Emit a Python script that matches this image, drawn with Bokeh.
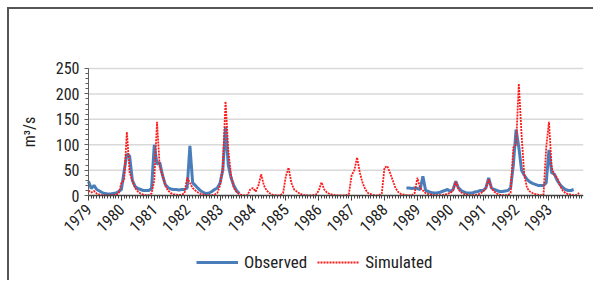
import math
from bokeh.plotting import figure
from bokeh.models import FixedTicker, Legend, LegendItem, ColumnDataSource
from bokeh.embed import file_html
from bokeh.resources import INLINE

nan = float("nan")

years = list(range(1979, 1994))
year_labels = [str(y) for y in years]
y_ticks = [0, 50, 100, 150, 200, 250]
grid_values = [50, 100, 150, 200, 250]

# monthly observed discharge (m3/s), Jan..Dec per row
observed = [
    28, 14, 20, 12, 9, 6, 4, 3, 3, 4, 5, 8,            # 1979
    12, 48, 82, 78, 30, 18, 14, 12, 10, 10, 10, 14,    # 1980
    100, 62, 65, 40, 22, 16, 13, 12, 12, 11, 12, 12,   # 1981
    15, 98, 25, 20, 14, 9, 6, 4, 5, 8, 12, 15,         # 1982
    25, 50, 135, 60, 35, 20, 10, 4, nan, nan, nan, nan,  # 1983
    nan, nan, nan, nan, nan, nan, nan, nan, nan, nan, nan, nan,  # 1984
    nan, nan, nan, nan, nan, nan, nan, nan, nan, nan, nan, nan,  # 1985
    nan, nan, nan, nan, nan, nan, nan, nan, nan, nan, nan, nan,  # 1986
    nan, nan, nan, nan, nan, nan, nan, nan, nan, nan, nan, nan,  # 1987
    nan, nan, nan, nan, nan, nan, nan, nan, 15, 15, 14, 15,      # 1988
    14, 12, 38, 10, 8, 6, 5, 5, 6, 8, 10, 12,          # 1989
    8, 12, 28, 15, 10, 7, 5, 5, 5, 7, 8, 10,           # 1990
    10, 15, 35, 15, 12, 10, 8, 8, 9, 10, 15, 60,       # 1991
    130, 95, 50, 40, 32, 27, 24, 22, 20, 20, 20, 25,   # 1992
    90, 45, 42, 30, 22, 16, 12, 10, 10, 12, nan, nan,  # 1993
]

# monthly simulated discharge (m3/s)
simulated = [
    10, 6, 9, 4, 2, 1, 0.5, 0.5, 0.5, 1, 2, 4,          # 1979
    25, 30, 125, 45, 30, 15, 8, 4, 2, 1, 1, 4,          # 1980
    30, 145, 55, 40, 20, 10, 5, 3, 2, 1, 2, 4,          # 1981
    35, 25, 15, 10, 6, 3, 2, 1, 1, 1, 2, 5,             # 1982
    20, 55, 185, 90, 40, 15, 7, 3, 1, 0.5, 1, 12,       # 1983
    15, 8, 20, 42, 20, 10, 5, 2, 1, 0.5, 0.5, 5,        # 1984
    38, 55, 25, 12, 8, 4, 2, 1, 0.5, 0.5, 1, 2,         # 1985
    10, 26, 12, 6, 3, 2, 1, 0.5, 0.5, 0.5, 1, 3,        # 1986
    40, 50, 75, 45, 25, 12, 5, 3, 1, 0.5, 1, 4,         # 1987
    55, 58, 45, 30, 15, 7, 3, 2, 1, 0.5, 1, 5,          # 1988
    35, 15, 10, 5, 3, 2, 1, 1, 1, 1, 2, 4,              # 1989
    5, 10, 27, 12, 6, 3, 2, 1, 1, 1, 2, 4,              # 1990
    8, 15, 32, 15, 8, 4, 2, 1, 1, 1, 5, 95,             # 1991
    100, 220, 120, 40, 15, 8, 5, 3, 2, 1, 1, 95,        # 1992
    145, 55, 40, 35, 20, 10, 5, 3, 2, 1, 1, 5,          # 1993
]

x = [years[0] + i / 12 for i in range(len(observed))]

FONT = "Roboto Condensed, Liberation Sans Narrow, Roboto"

# The frame covers the whole figure so that tick labels and legend fit inside it;
# both axes are pinned: x axis at y = 0, y axis at the first year.
X_START, X_END = years[0], 1994.05
X_LEFT = 1976.598
Y_BOTTOM, Y_TOP = -167, 366

p = figure(frame_width=574, frame_height=271, x_range=(X_LEFT, X_END), y_range=(Y_BOTTOM, Y_TOP),
           output_backend="svg", toolbar_location=None,
           min_border_left=0, min_border_right=10, min_border_top=0, min_border_bottom=0)
p.styles = {"margin-left": "7px", "margin-top": "7px",
            "border-left": "2px solid #555555", "border-top": "2px solid #555555"}
p.outline_line_color = None
p.background_fill_color = "white"
p.xgrid.visible = False
p.ygrid.visible = False

# horizontal gridlines between the axis and the right end
p.segment(x0=[X_START] * len(grid_values), x1=[X_END] * len(grid_values),
          y0=grid_values, y1=grid_values, line_color="#d9d9d9", line_width=1.5, level="underlay")

src = ColumnDataSource(dict(x=x, obs=observed, sim=simulated))
r_obs = p.line("x", "obs", source=src, line_color="#4a7ebb", line_width=3)
r_sim = p.line("x", "sim", source=src, line_color="#ff1a1a", line_width=1.8, line_dash="2 1")

xa = p.xaxis[0]
xa.fixed_location = 0
xa.bounds = (X_START, X_END)
xa.ticker = FixedTicker(ticks=years, minor_ticks=[1979 + i / 12 for i in range(181)])
xa.major_label_overrides = {y: s for y, s in zip(years, year_labels)}
xa.major_label_orientation = math.pi / 4
xa.major_label_standoff = 6
xa.major_tick_in = 0
xa.major_tick_out = 5
xa.minor_tick_in = 0
xa.minor_tick_out = 3
xa.axis_line_color = "#404040"
xa.major_tick_line_color = "#404040"
xa.minor_tick_line_color = "#404040"
xa.axis_line_width = 1.5
xa.major_label_text_font = FONT
xa.major_label_text_font_size = "16px"
xa.major_label_text_color = "#222222"

ya = p.yaxis[0]
ya.fixed_location = X_START
ya.bounds = (0, 250)
ya.ticker = FixedTicker(ticks=y_ticks, minor_ticks=list(range(0, 251, 10)))
ya.major_tick_in = 0
ya.major_tick_out = 4
ya.minor_tick_in = 0
ya.minor_tick_out = 3
ya.axis_line_color = "#606060"
ya.major_tick_line_color = "#606060"
ya.minor_tick_line_color = "#606060"
ya.major_label_text_font = FONT
ya.major_label_text_font_size = "16px"
ya.major_label_text_color = "#222222"
ya.axis_label = "m³/s"
ya.axis_label_text_font = FONT
ya.axis_label_text_font_size = "16px"
ya.axis_label_text_font_style = "normal"
ya.axis_label_text_color = "#222222"
ya.axis_label_standoff = 14

legend = Legend(items=[LegendItem(label="Observed", renderers=[r_obs]),
                       LegendItem(label="Simulated", renderers=[r_sim])],
                orientation="horizontal", location=(187, 8),
                glyph_width=42, glyph_height=16, label_standoff=6, spacing=10,
                padding=0, margin=0, border_line_color=None, background_fill_alpha=0,
                label_text_font=FONT, label_text_font_size="17px",
                label_text_color="#222222")
p.add_layout(legend, "center")

open("out.html", "w").write(file_html(p, INLINE))
